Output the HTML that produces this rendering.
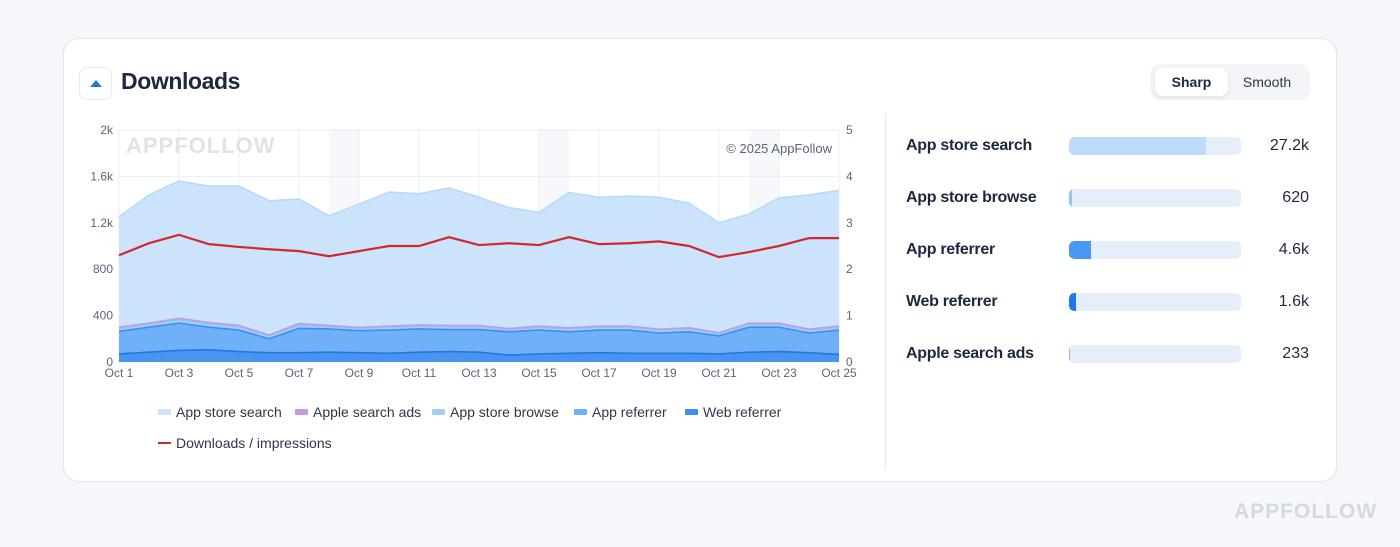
<!DOCTYPE html>
<html><head><meta charset="utf-8">
<style>
body{margin:0;width:1400px;height:547px;background:#f5f7fa;font-family:"Liberation Sans",sans-serif;position:relative;overflow:hidden}
.card{position:absolute;left:63px;top:38px;width:1272px;height:442px;background:#fff;border:1px solid #dde5f0;border-radius:16px}
.abs{position:absolute}
.lbl{position:absolute;left:906px;font-size:16px;font-weight:bold;color:#1c2840;letter-spacing:-0.3px}
.track{position:absolute;left:1069px;width:172px;height:18px;background:#e6eefa;border-radius:5px;overflow:hidden}
.fill{height:100%;border-radius:5px 0 0 5px}
.val{position:absolute;right:91px;font-size:16px;color:#1c2840;text-align:right}
</style></head><body>
<div class="card"></div>
<div class="abs" style="left:79px;top:67px;width:31px;height:31px;border:1px solid #e3e9f2;border-radius:8px;background:#fff">
<div style="position:absolute;left:10px;top:12px;width:0;height:0;border-left:6px solid transparent;border-right:6px solid transparent;border-bottom:7px solid #1f78e8"></div></div>
<div class="abs" style="left:121px;top:68px;font-size:23px;font-weight:bold;color:#1c2840;letter-spacing:-0.4px">Downloads</div>
<div class="abs" style="left:1150px;top:64px;width:160px;height:36px;background:#f3f5f8;border-radius:10px"></div>
<div class="abs" style="left:1155px;top:68px;width:73px;height:28px;background:#fff;border-radius:8px;box-shadow:0 2px 6px rgba(0,0,0,0.08);font-size:14px;font-weight:bold;color:#1c2840;text-align:center;line-height:28px">Sharp</div>
<div class="abs" style="left:1232px;top:68px;width:70px;height:28px;font-size:14px;color:#2d3748;text-align:center;line-height:28px">Smooth</div>
<div class="abs" style="left:885px;top:115px;width:1px;height:353px;background:#e3e9f2"></div>
<div class="abs" style="left:1234px;top:500px;font-size:21px;font-weight:bold;color:#d3d9e2;letter-spacing:1px">APPFOLLOW</div>

<div class="lbl" style="top:137px">App store search</div>
<div class="track" style="top:137px"><div class="fill" style="width:137px;background:#bcdcfa"></div></div>
<div class="val" style="top:137px">27.2k</div>
<div class="lbl" style="top:189px">App store browse</div>
<div class="track" style="top:189px"><div class="fill" style="width:3px;background:#8ec4f7"></div></div>
<div class="val" style="top:189px">620</div>
<div class="lbl" style="top:241px">App referrer</div>
<div class="track" style="top:241px"><div class="fill" style="width:22px;background:#4a98f3"></div></div>
<div class="val" style="top:241px">4.6k</div>
<div class="lbl" style="top:293px">Web referrer</div>
<div class="track" style="top:293px"><div class="fill" style="width:7px;background:#1f78e8"></div></div>
<div class="val" style="top:293px">1.6k</div>
<div class="lbl" style="top:345px">Apple search ads</div>
<div class="track" style="top:345px"><div class="fill" style="width:1px;background:#c39ddb"></div></div>
<div class="val" style="top:345px">233</div>

<svg id="chart" class="abs" style="left:0;top:0" width="1400" height="547"></svg>
<script>
const days=["Oct 1","Oct 2","Oct 3","Oct 4","Oct 5","Oct 6","Oct 7","Oct 8","Oct 9","Oct 10","Oct 11","Oct 12","Oct 13","Oct 14","Oct 15","Oct 16","Oct 17","Oct 18","Oct 19","Oct 20","Oct 21","Oct 22","Oct 23","Oct 24","Oct 25"];
const webReferrer=[70,85,100,105,90,80,80,85,80,75,85,90,85,60,70,75,80,75,75,75,70,85,90,80,65];
const appReferrer=[195,215,235,195,185,120,210,200,190,200,200,190,195,200,205,185,195,200,175,185,155,215,210,170,210];
const appStoreBrowse=[25,25,30,30,30,25,30,20,20,25,25,25,25,20,25,25,25,25,25,25,20,25,25,25,25];
const appleSearchAds=[10,10,12,10,10,8,12,10,8,10,10,10,10,8,10,10,10,10,8,10,8,10,10,8,10];
const appStoreSearch=[950,1105,1183,1177,1202,1157,1073,945,1062,1155,1130,1185,1105,1042,980,1165,1110,1120,1137,1075,947,940,1080,1157,1170];
const ratio=[2.3,2.56,2.74,2.54,2.48,2.43,2.39,2.28,2.39,2.5,2.5,2.69,2.52,2.56,2.52,2.69,2.54,2.56,2.6,2.5,2.26,2.37,2.5,2.67,2.67];
const leftTicks=["0","400","800","1.2k","1.6k","2k"];
const leftTickVals=[0,400,800,1200,1600,2000];
const rightTicks=["0","1","2","3","4","5"];
const weekendStart=[7,14,21];

const svg=document.getElementById('chart');const NS='http://www.w3.org/2000/svg';
const X0=119,X1=839,Y0=362,Y1=130;
const x=i=>X0+(X1-X0)*i/(days.length-1);
const y=v=>Y0-(Y0-Y1)*v/2000;
const yr=v=>Y0-(Y0-Y1)*v/5;
function mk(t,a,txt){const e=document.createElementNS(NS,t);for(const k in a)e.setAttribute(k,a[k]);if(txt!==undefined)e.textContent=txt;svg.appendChild(e);return e;}
weekendStart.forEach(d=>{const e=mk('rect',{x:x(d),y:Y1,width:x(d+1)-x(d),height:Y0-Y1,fill:'#f6f8fb'});

});
leftTickVals.forEach((v,i)=>{const g=mk('line',{x1:X0,x2:X1,y1:y(v),y2:y(v),stroke:'#e8eef6','stroke-width':1});


const t=mk('text',{x:X0-6,y:y(v)+4,'text-anchor':'end','font-size':12,fill:'#5a6578'},leftTicks[i]);


const r=mk('text',{x:X1+7,y:yr(i)+4,'text-anchor':'start','font-size':12,fill:'#5a6578'},rightTicks[i]);

});
days.forEach((d,i)=>{if(i%2==0){const g=mk('line',{x1:x(i),x2:x(i),y1:Y1,y2:Y0,stroke:'#e8eef6'});


const t=mk('text',{x:x(i),y:377,'text-anchor':'middle','font-size':12,fill:'#5a6578'},d);

}});
const wm=mk('text',{x:126,y:153,'font-size':22,'font-weight':'bold',fill:'#dfe3e9','letter-spacing':1},'APPFOLLOW');


const cp=mk('text',{x:832,y:153,'text-anchor':'end','font-size':13,fill:'#5a6578'},'© 2025 AppFollow');


const series=[[webReferrer,'#4a93f0','#1f78e8','area-web-referrer'],[appReferrer,'#70b0f9','#3d8ef0','area-app-referrer'],[appStoreBrowse,'#a5cff8','#8ec4f7','area-app-store-browse'],[appleSearchAds,'#c8b4e6','#c39ddb','area-apple-search-ads'],[appStoreSearch,'#cce4fb','#b9d9f7','area-app-store-search']];
let base=days.map(()=>0);const layers=[];
series.forEach(s=>{const top=base.map((b,i)=>b+s[0][i]);layers.push([base,top,s]);base=top;});
layers.slice().reverse().forEach(([b,t,s])=>{
let d='M'+t.map((v,i)=>x(i)+','+y(v)).join('L')+'L'+b.map((v,i)=>[i,v]).reverse().map(p=>x(p[0])+','+y(p[1])).join('L')+'Z';
const a=mk('path',{d:d,fill:s[1]});


});
layers.forEach(([b,t,s])=>{const l=mk('path',{d:'M'+t.map((v,i)=>x(i)+','+y(v)).join('L'),fill:'none',stroke:s[2],'stroke-width':1.6});

});
const rl=mk('path',{d:'M'+ratio.map((v,i)=>x(i)+','+yr(v)).join('L'),fill:'none',stroke:'#d0282e','stroke-width':2.2});


const legend=[['App store search','#cce4fb',158,412],['Apple search ads','#c39ddb',295,412],['App store browse','#a5cff8',432,412],['App referrer','#70b0f9',574,412],['Web referrer','#3d8ef0',685,412]];
legend.forEach(l=>{const r=mk('rect',{x:l[2],y:l[3]-3,width:13,height:6,fill:l[1],rx:1});


const t=mk('text',{x:l[2]+18,y:l[3]+5,'font-size':14,fill:'#2d3748'},l[0]);

});
const lr=mk('rect',{x:158,y:442,width:13,height:2,fill:'#d0282e'});


const lt=mk('text',{x:176,y:448,'font-size':14,fill:'#2d3748'},'Downloads / impressions');


</script>
</body></html>
